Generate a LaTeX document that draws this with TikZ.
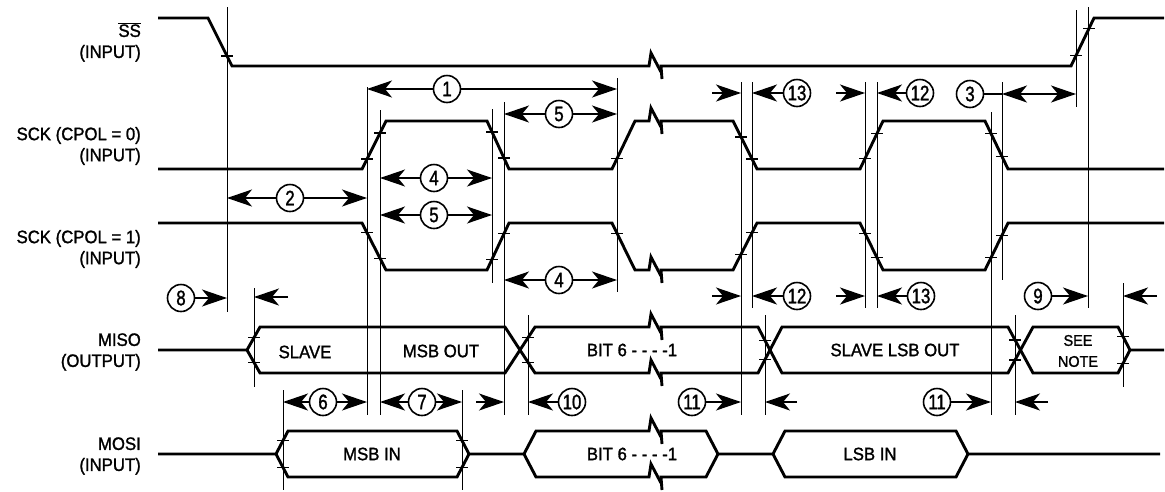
\documentclass[tikz,border=0pt]{standalone}
\usepackage{fontspec}
\setmainfont{Liberation Sans}
\newfontfamily\labfont[FakeStretch=0.93,FakeBold=1.4]{Liberation Sans}
\newfontfamily\circfont[FakeStretch=0.8,FakeBold=1.4]{Liberation Sans}
\usetikzlibrary{arrows.meta}
\tikzset{
  sig/.style={line width=2.9pt, miter limit=4},
  guide/.style={line width=1pt},
  tickl/.style={line width=1.3pt},
  aline/.style={line width=1.4pt},
  arr/.style={line width=1.4pt, -{Stealth[length=25pt,width=17pt,inset=7pt]}},
  darr/.style={line width=1.4pt, {Stealth[length=25pt,width=17pt,inset=7pt]}-{Stealth[length=25pt,width=17pt,inset=7pt]}},
  circ/.style={circle, draw, line width=1.6pt, minimum size=27pt, inner sep=0pt, fill=white,
    font=\circfont\fontsize{21}{21}\selectfont},
  lab/.style={font=\labfont\fontsize{18}{21}\selectfont, align=right, anchor=east, inner sep=0pt},
  txt/.style={font=\labfont\fontsize{18}{21}\selectfont, inner sep=0pt},
  txts/.style={font=\labfont\fontsize{15.5}{21}\selectfont, align=center, inner sep=0pt}
}
\newcommand\tk[5]{%
  \pgfmathsetmacro\tky{#2+(#5-#1)*(#4-#2)/(#3-#1)}%
  \draw[tickl] ({#5-6},\tky) -- ({#5+6},\tky);}
\begin{document}
\begin{tikzpicture}[x=1pt,y=-1pt]
\useasboundingbox (0,0) rectangle (1165,491);
% guides
\draw[guide] (227,7) -- (227,312);
\draw[guide] (367,87) -- (367,415);
\draw[guide] (380,110) -- (380,415);
\draw[guide] (492,109) -- (492,283);
\draw[guide] (504,102) -- (504,415);
\draw[guide] (528,315) -- (528,415);
\draw[guide] (617,78) -- (617,292);
\draw[guide] (741,82) -- (741,415);
\draw[guide] (752,82) -- (752,308);
\draw[guide] (765,315) -- (765,415);
\draw[guide] (865,82) -- (865,308);
\draw[guide] (877,82) -- (877,308);
\draw[guide] (991,112) -- (991,415);
\draw[guide] (1002,82) -- (1002,280);
\draw[guide] (1015,315) -- (1015,415);
\draw[guide] (1076,10) -- (1076,107);
\draw[guide] (1088,7) -- (1088,308);
\draw[guide] (1123,283) -- (1123,387);
\draw[guide] (254,288) -- (254,387);
\draw[guide] (283,390) -- (283,490);
\draw[guide] (462,390) -- (462,490);
% SS
\draw[sig] (158,18) -- (208,18) -- (232,66) -- (649,66) -- (651,53) -- (661,72);
\draw[sig] (662,79) -- (661,66) -- (1071,66) -- (1094,18) -- (1164,18);
\tk{208}{18}{232}{66}{227}
\tk{1071}{66}{1094}{18}{1076}
\tk{1071}{66}{1094}{18}{1089}
% SCK CPOL=0
\draw[sig] (158,169) -- (362,169) -- (386,121) -- (487,121) -- (509,169) -- (612,169) -- (635,121) -- (649,121) -- (651,108) -- (661,127);
\draw[sig] (662,134) -- (661,121) -- (733,121) -- (757,169) -- (860,169) -- (883,121) -- (985,121) -- (1008,169) -- (1164,169);
\tk{362}{169}{386}{121}{367}\tk{362}{169}{386}{121}{380}
\tk{487}{121}{509}{169}{492}\tk{487}{121}{509}{169}{504}
\tk{612}{169}{635}{121}{617}
\tk{733}{121}{757}{169}{741}\tk{733}{121}{757}{169}{752}
\tk{860}{169}{883}{121}{865}\tk{860}{169}{883}{121}{877}
\tk{985}{121}{1008}{169}{991}\tk{985}{121}{1008}{169}{1002}
% SCK CPOL=1
\draw[sig] (158,223) -- (362,223) -- (386,270) -- (487,270) -- (509,223) -- (612,223) -- (635,270) -- (649,270) -- (651,257) -- (661,276);
\draw[sig] (662,283) -- (661,270) -- (733,270) -- (757,223) -- (860,223) -- (883,270) -- (985,270) -- (1008,223) -- (1164,223);
\tk{362}{223}{386}{270}{367}\tk{362}{223}{386}{270}{380}
\tk{487}{270}{509}{223}{492}\tk{487}{270}{509}{223}{504}
\tk{612}{223}{635}{270}{617}
\tk{733}{270}{757}{223}{741}\tk{733}{270}{757}{223}{752}
\tk{860}{223}{883}{270}{865}\tk{860}{223}{883}{270}{877}
\tk{985}{270}{1008}{223}{991}\tk{985}{270}{1008}{223}{1002}
% MISO
\draw[sig] (158,350) -- (247,350) -- (260,327) -- (505,327) -- (535,373) -- (649,373) -- (651,360) -- (661,379);
\draw[sig] (247,350) -- (260,373) -- (505,373) -- (535,327) -- (649,327) -- (651,314) -- (661,333);
\draw[sig] (662,340) -- (661,327) -- (758,327) -- (782,373) -- (1008,373) -- (1033,327) -- (1118,327) -- (1130,350) -- (1164,350);
\draw[sig] (662,386) -- (661,373) -- (758,373) -- (782,327) -- (1008,327) -- (1033,373) -- (1118,373) -- (1130,350);
\tk{247}{350}{260}{327}{254}\tk{247}{350}{260}{373}{254}
\tk{505}{327}{535}{373}{528}\tk{505}{373}{535}{327}{528}
\tk{758}{327}{782}{373}{765}\tk{758}{373}{782}{327}{765}
\tk{1008}{327}{1033}{373}{1015}\tk{1008}{373}{1033}{327}{1015}
\tk{1118}{327}{1130}{350}{1123}\tk{1118}{373}{1130}{350}{1123}
% MOSI
\draw[sig] (158,454) -- (276,454) -- (288,431) -- (457,431) -- (469,454) -- (524,454) -- (536,431) -- (649,431) -- (651,418) -- (661,437);
\draw[sig] (276,454) -- (288,477) -- (457,477) -- (469,454);
\draw[sig] (524,454) -- (536,477) -- (649,477) -- (651,464) -- (661,483);
\draw[sig] (662,444) -- (661,431) -- (706,431) -- (718,454) -- (773,454) -- (785,431) -- (956,431) -- (968,454) -- (1160,454);
\draw[sig] (662,490) -- (661,477) -- (706,477) -- (718,454);
\draw[sig] (773,454) -- (785,477) -- (956,477) -- (968,454);
\tk{276}{454}{288}{431}{283}\tk{276}{454}{288}{477}{283}
\tk{457}{431}{469}{454}{462}\tk{457}{477}{469}{454}{462}
% labels
\node[lab] (lss) at (141,42) {$\overline{\mbox{\labfont\fontsize{18}{21}\selectfont SS}}$\\(INPUT)};
\node[lab] (lck0) at (141,146) {SCK (CPOL = 0)\\(INPUT)};
\node[lab] (lck1) at (141,249) {SCK (CPOL = 1)\\(INPUT)};
\node[lab] (lmiso) at (141,352) {MISO\\(OUTPUT)};
\node[lab] (lmosi) at (141,456) {MOSI\\(INPUT)};
\node[txt] (t1) at (305,352) {SLAVE};
\node[txt] (t2) at (441,351) {MSB OUT};
\node[txt] (t3) at (632,350) {BIT 6 - - - -1};
\node[txt] (t4) at (895,350) {SLAVE LSB OUT};
\node[txts] (t5) at (1078,351) {SEE\\NOTE};
\node[txt] (t6) at (372,454) {MSB IN};
\node[txt] (t7) at (632,454) {BIT 6 - - - -1};
\node[txt] (t8) at (870,454) {LSB IN};
% circles
\node[circ] (c1) at (447,89) {1};
\node[circ] (c5a) at (559,114) {5};
\node[circ] (c4a) at (434,178) {4};
\node[circ] (c2) at (290,198) {2};
\node[circ] (c5b) at (434,215) {5};
\node[circ] (c4b) at (559,280) {4};
\node[circ] (c13a) at (797,93) {13};
\node[circ] (c12a) at (920,93) {12};
\node[circ] (c3) at (970,94) {3};
\node[circ] (c8) at (181,298) {8};
\node[circ] (c12b) at (797,296) {12};
\node[circ] (c13b) at (921,296) {13};
\node[circ] (c9) at (1038,296) {9};
\node[circ] (c6) at (323,402) {6};
\node[circ] (c7) at (422,402) {7};
\node[circ] (c10) at (572,402) {10};
\node[circ] (c11a) at (692,402) {11};
\node[circ] (c11b) at (937,402) {11};
% arrows
\draw[arr] (c1) -- (367,89); \draw[arr] (c1) -- (617,89);
\draw[arr] (c5a) -- (504,114); \draw[arr] (c5a) -- (617,114);
\draw[arr] (c4a) -- (380,178); \draw[arr] (c4a) -- (492,178);
\draw[arr] (c2) -- (227,198); \draw[arr] (c2) -- (367,198);
\draw[arr] (c5b) -- (380,215); \draw[arr] (c5b) -- (492,215);
\draw[arr] (c4b) -- (504,280); \draw[arr] (c4b) -- (617,280);
\coordinate (p1) at (712,93); \draw[arr] (p1) -- (741,93);
\draw[arr] (c13a) -- (752,93);
\coordinate (p2) at (836,93); \draw[arr] (p2) -- (865,93);
\draw[arr] (c12a) -- (877,93);
\draw[aline] (c3) -- (1002,94);
\draw[darr] (1002,94) -- (1076,94);
\draw[arr] (c8) -- (227,298);
\coordinate (p3) at (288,297); \draw[arr] (p3) -- (254,297);
\coordinate (p4) at (712,296); \draw[arr] (p4) -- (741,296);
\draw[arr] (c12b) -- (752,296);
\coordinate (p5) at (836,296); \draw[arr] (p5) -- (865,296);
\draw[arr] (c13b) -- (877,296);
\draw[arr] (c9) -- (1088,296);
\coordinate (p6) at (1157,296); \draw[arr] (p6) -- (1123,296);
\draw[arr] (c6) -- (283,402); \draw[arr] (c6) -- (367,402);
\draw[arr] (c7) -- (380,402); \draw[arr] (c7) -- (462,402);
\coordinate (p7) at (476,402); \draw[arr] (p7) -- (504,402);
\draw[arr] (c10) -- (528,402);
\draw[arr] (c11a) -- (741,402);
\coordinate (p8) at (797,402); \draw[arr] (p8) -- (765,402);
\draw[arr] (c11b) -- (991,402);
\coordinate (p9) at (1048,402); \draw[arr] (p9) -- (1015,402);
\end{tikzpicture}
\end{document}
